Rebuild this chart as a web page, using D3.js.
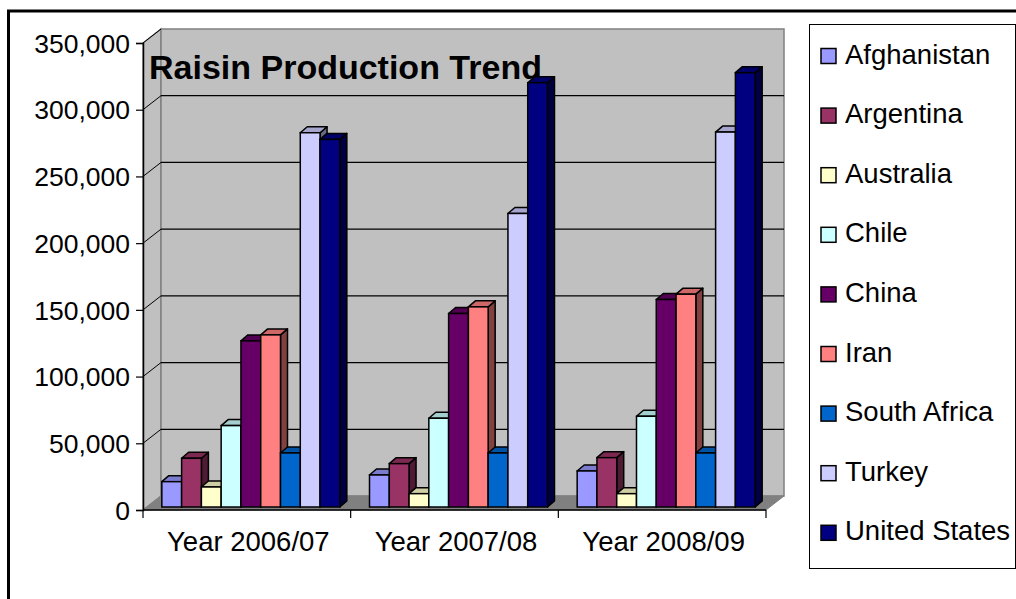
<!DOCTYPE html>
<html>
<head>
<meta charset="utf-8">
<script src="https://cdn.jsdelivr.net/npm/d3@7"></script>
<style>
  body { margin: 0; background: #fff; }
  text { font-family: "Liberation Sans", Arial, sans-serif; }
</style>
</head>
<body>
<div id="chart"></div>
<script>
const years = ["Year 2006/07", "Year 2007/08", "Year 2008/09"];
const countries = ["Afghanistan", "Argentina", "Australia", "Chile", "China", "Iran", "South Africa", "Turkey", "United States"];
const afghanistan = [19000, 24000, 27000];
const argentina = [36500, 32500, 37000];
const australia = [15000, 10000, 10000];
const chile = [61000, 66500, 68000];
const china = [124500, 145000, 155500];
const iran = [129000, 150000, 159500];
const southAfrica = [40500, 40500, 40500];
const turkey = [280500, 220000, 281000];
const unitedStates = [275500, 318000, 325500];
const yTicks = [0, 50000, 100000, 150000, 200000, 250000, 300000, 350000];
const colors = ["#9999FF", "#993366", "#FFFFCC", "#CCFFFF", "#660066", "#FF8080", "#0066CC", "#CCCCFF", "#000080"];

const series = [afghanistan, argentina, australia, chile, china, iran, southAfrica, turkey, unitedStates];

const width = 1016, height = 599;
const svg = d3.select("#chart").append("svg")
    .attr("width", width)
    .attr("height", height);

// outer chart border (runs off the right and bottom of the picture)
svg.append("rect")
    .attr("x", 8.5).attr("y", 11)
    .attr("width", 1100).attr("height", 700)
    .attr("fill", "#fff").attr("stroke", "#000").attr("stroke-width", 3);

const x0 = 143, x1 = 766, y0 = 510, yTop = 43;
const wallDx = 18, wallDy = -14;   // depth of the 3d walls
const barDx = 4, barDy = -3;       // front of the bars
const depDx = 7, depDy = -6;       // bar depth

const y = d3.scaleLinear().domain([0, 350000]).range([y0, yTop]);
const xCat = d3.scaleBand().domain(years).range([x0, x1]);
const xBar = d3.scaleBand().domain(countries)
    .range([0, xCat.bandwidth()])
    .paddingOuter(0.75).paddingInner(0);

const poly = pts => "M" + pts.map(p => p.join(",")).join("L") + "Z";

// side wall
svg.append("path")
    .attr("d", poly([[x0, y0], [x0, yTop], [x0 + wallDx, yTop + wallDy], [x0 + wallDx, y0 + wallDy]]))
    .attr("fill", "#c0c0c0").attr("stroke", "#808080").attr("stroke-width", 1.5);
// back wall
svg.append("path")
    .attr("d", poly([[x0 + wallDx, yTop + wallDy], [x1 + wallDx, yTop + wallDy], [x1 + wallDx, y0 + wallDy], [x0 + wallDx, y0 + wallDy]]))
    .attr("fill", "#c0c0c0").attr("stroke", "#808080").attr("stroke-width", 1.5);
// floor
svg.append("path")
    .attr("d", poly([[x0, y0], [x1, y0], [x1 + wallDx, y0 + wallDy], [x0 + wallDx, y0 + wallDy]]))
    .attr("fill", "#808080").attr("stroke", "#808080");

// gridlines on back and side wall
const grid = yTicks.filter(d => d > 0 && d < 350000);
svg.selectAll(".grid").data(grid).enter().append("line")
    .attr("x1", x0 + wallDx).attr("x2", x1 + wallDx)
    .attr("y1", d => y(d) + wallDy).attr("y2", d => y(d) + wallDy)
    .attr("stroke", "#000").attr("stroke-width", 1.2);
svg.selectAll(".diag").data(yTicks.filter(d => d > 0)).enter().append("line")
    .attr("x1", x0).attr("x2", x0 + wallDx)
    .attr("y1", d => y(d)).attr("y2", d => y(d) + wallDy)
    .attr("stroke", "#000").attr("stroke-width", 1);

// axes
const yAxis = svg.append("g").attr("transform", `translate(${x0},0)`)
    .call(d3.axisLeft(y).tickValues(yTicks).tickFormat(d3.format(",")).tickSize(7).tickPadding(6));
yAxis.select(".domain").attr("stroke", "#000").attr("stroke-width", 1.5);
yAxis.selectAll("line").attr("stroke", "#000").attr("stroke-width", 1.2);
yAxis.selectAll("text").attr("font-size", 26.5).attr("fill", "#000")
    .attr("font-family", "Liberation Sans, Arial, sans-serif").attr("dy", "0.35em");

const xAxis = svg.append("g").attr("transform", `translate(0,${y0})`);
xAxis.append("line").attr("x1", x0).attr("x2", x1).attr("stroke", "#000").attr("stroke-width", 1.5);
xAxis.selectAll(".tk").data(d3.range(years.length + 1)).enter().append("line")
    .attr("x1", i => x0 + i * xCat.bandwidth()).attr("x2", i => x0 + i * xCat.bandwidth())
    .attr("y1", 0).attr("y2", 8).attr("stroke", "#000").attr("stroke-width", 1.2);
xAxis.selectAll(".cat").data(years).enter().append("text")
    .attr("x", d => xCat(d) + xCat.bandwidth() / 2 + 1.5)
    .attr("y", 41)
    .attr("text-anchor", "middle")
    .attr("font-size", 27.5)
    .text(d => d);

// title
svg.append("text")
    .attr("x", 149).attr("y", 78.5)
    .attr("font-size", 34).attr("font-weight", "bold")
    .text("Raisin Production Trend");

// bars: front, top and side faces
const bars = [];
years.forEach((yr, ci) => {
    countries.forEach((c, si) => {
        bars.push({ yr, c, si, v: series[si][ci] });
    });
});
const w = xBar.bandwidth();
const g = svg.selectAll(".bar").data(bars).enter().append("g").attr("class", "bar");
g.each(function (d) {
    const sel = d3.select(this);
    const xl = xCat(d.yr) + xBar(d.c) + barDx;
    const xr = xl + w;
    const yt = y(d.v) + barDy;
    const yb = y(0) + barDy;
    const col = colors[d.si];
    sel.append("path")
        .attr("d", poly([[xr, yb], [xr, yt], [xr + depDx, yt + depDy], [xr + depDx, yb + depDy]]))
        .attr("fill", d3.rgb(col).darker(1.9).formatHex())
        .attr("stroke", "#000").attr("stroke-width", 1.5).attr("stroke-linejoin", "round");
    sel.append("path")
        .attr("d", poly([[xl, yt], [xr, yt], [xr + depDx, yt + depDy], [xl + depDx, yt + depDy]]))
        .attr("fill", d3.rgb(col).darker(0.6).formatHex())
        .attr("stroke", "#000").attr("stroke-width", 1.5).attr("stroke-linejoin", "round");
    sel.append("rect")
        .attr("x", xl).attr("y", yt).attr("width", w).attr("height", yb - yt)
        .attr("fill", col).attr("stroke", "#000").attr("stroke-width", 1.5);
});

// legend
const leg = svg.append("g");
leg.append("rect")
    .attr("x", 809.5).attr("y", 24.5).attr("width", 206).attr("height", 544)
    .attr("fill", "#fff").attr("stroke", "#000").attr("stroke-width", 1);
const li = leg.selectAll(".li").data(countries).enter().append("g")
    .attr("transform", (d, i) => `translate(0,${63.5 + i * 59.6})`);
li.append("rect")
    .attr("x", 821).attr("y", -15).attr("width", 15).attr("height", 15)
    .attr("fill", (d, i) => colors[i]).attr("stroke", "#000").attr("stroke-width", 1.5);
li.append("text")
    .attr("x", 845).attr("y", 0)
    .attr("font-size", 27.5)
    .text(d => d);
</script>
</body>
</html>
